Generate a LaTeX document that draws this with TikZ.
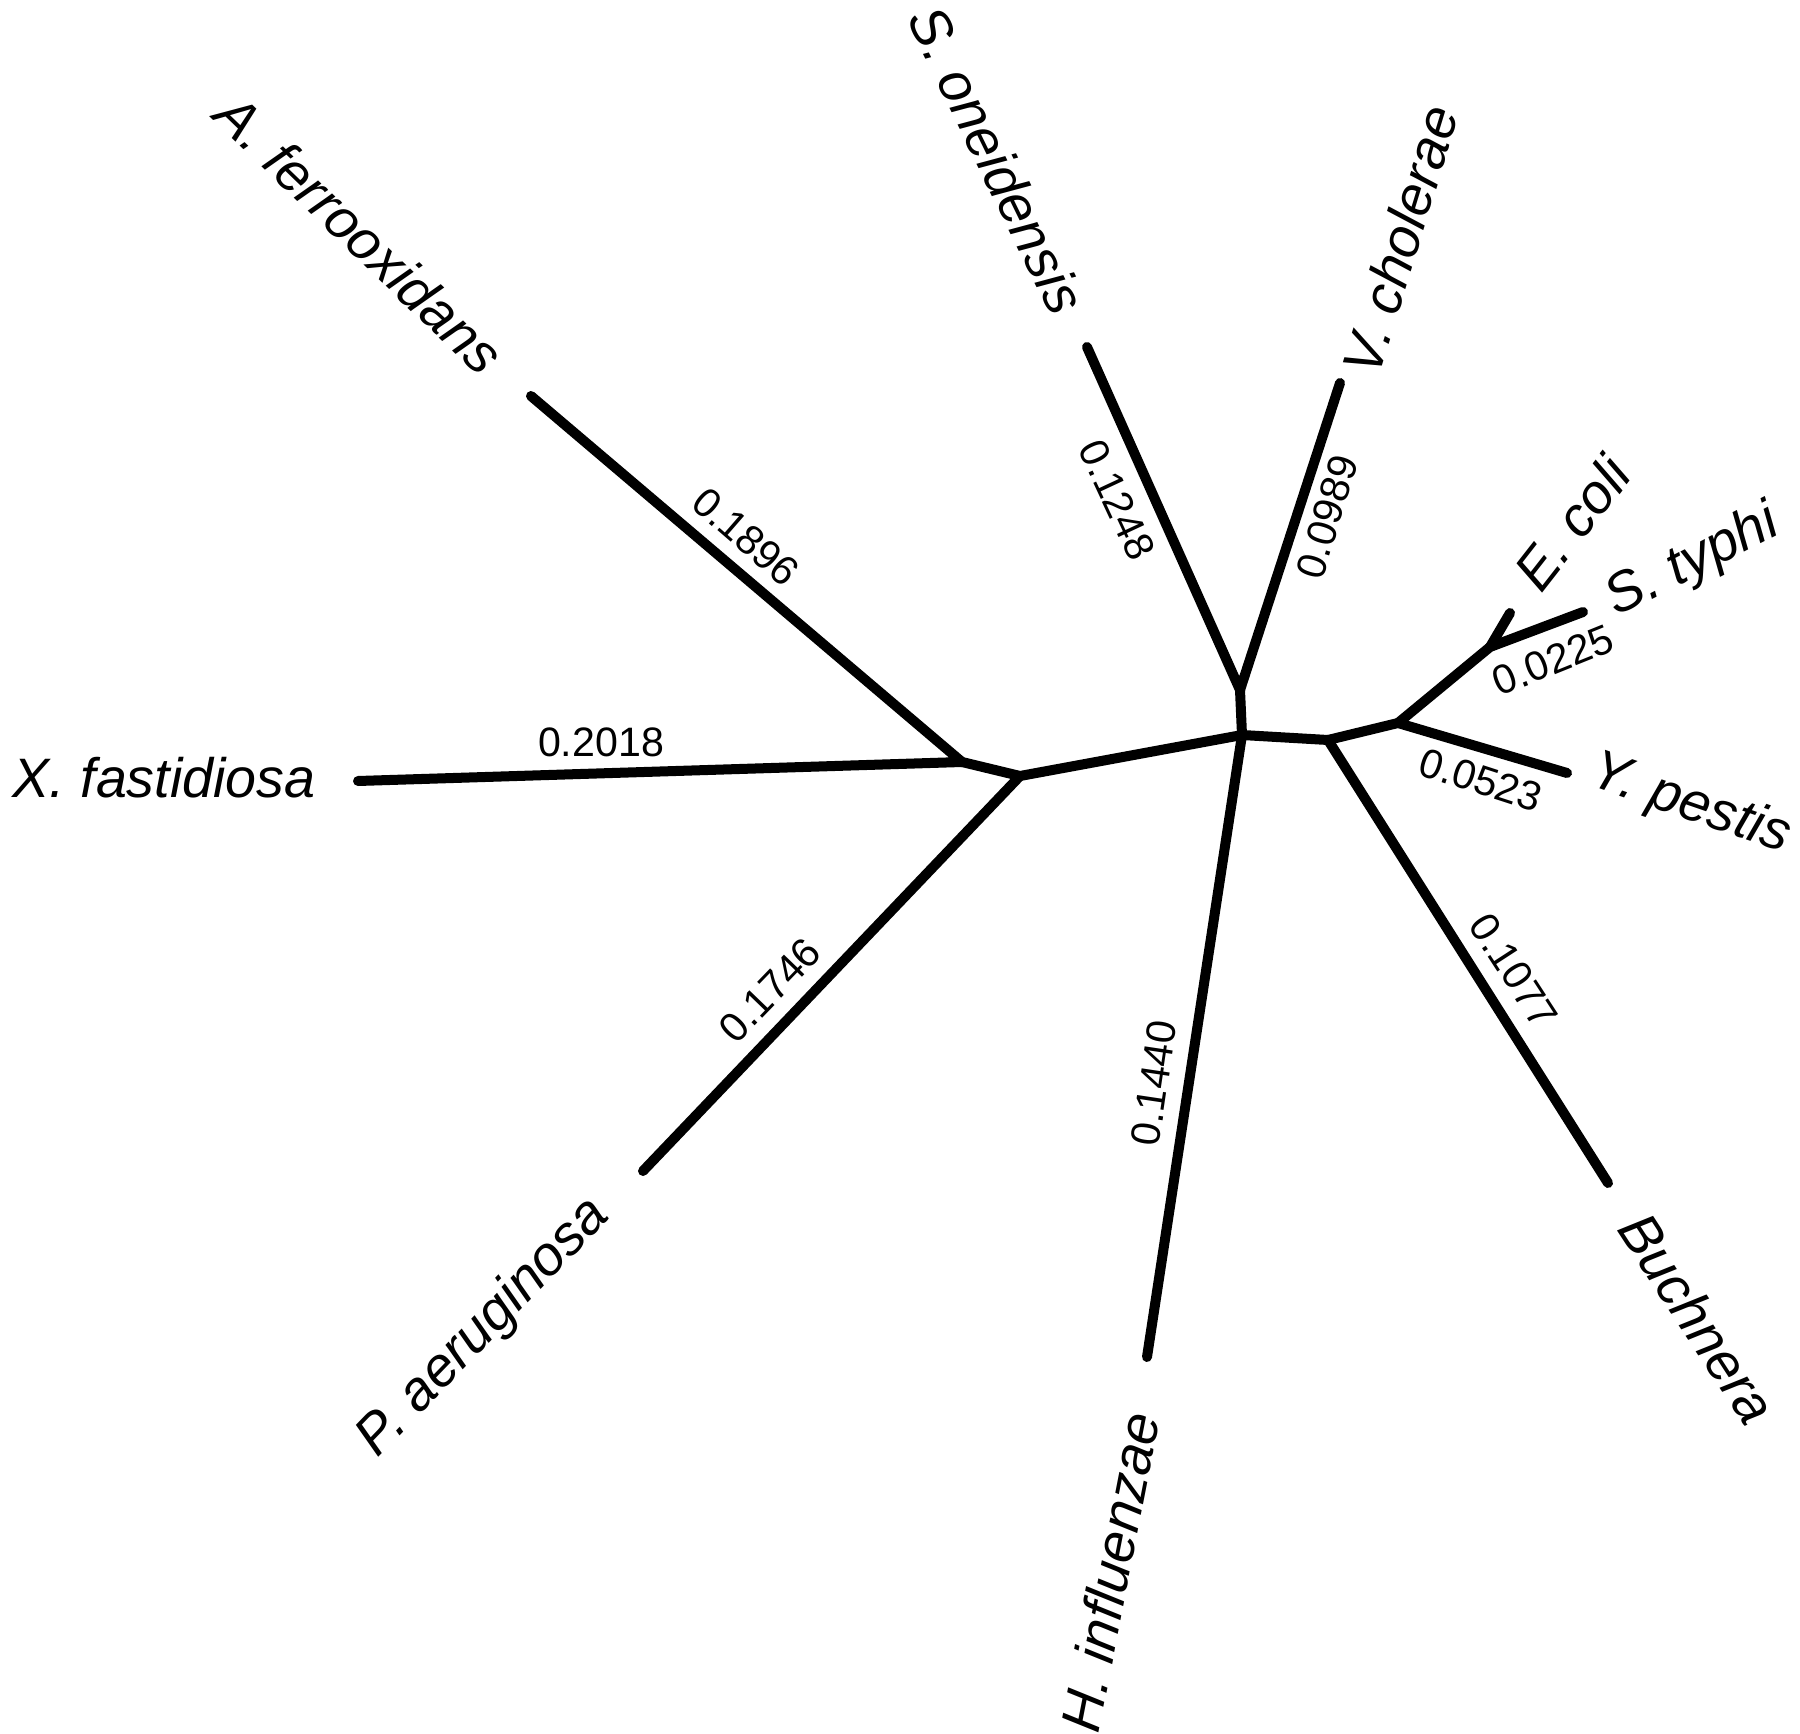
\documentclass[tikz,border=0pt]{standalone}
\usepackage{fontspec}
\setmainfont{Liberation Sans}
\begin{document}
\begin{tikzpicture}[x=0.01cm,y=-0.01cm,
  branch/.style={line width=0.1cm, line cap=round, line join=round},
  species/.style={font=\fontsize{15.8pt}{19pt}\selectfont\itshape, inner sep=0pt},
  blen/.style={font=\fontsize{11.7pt}{14pt}\selectfont, inner sep=0pt}]
\useasboundingbox[fill=white] (0,0) rectangle (1800,1734);

% internal nodes
\coordinate (L1) at (962,762);
\coordinate (L2) at (1020,776);
\coordinate (C) at (1242,735);
\coordinate (SV) at (1240,690);
\coordinate (R1) at (1328,740);
\coordinate (R2) at (1398,723);
\coordinate (R3) at (1490,647);
% tips
\coordinate (tAf) at (531,396);
\coordinate (tXf) at (358,781);
\coordinate (tPa) at (643,1171);
\coordinate (tSo) at (1087,347);
\coordinate (tVc) at (1340,383);
\coordinate (tHi) at (1147,1357);
\coordinate (tBu) at (1608,1183);
\coordinate (tYp) at (1567,773);
\coordinate (tEc) at (1510,613);
\coordinate (tSt) at (1583,612);

% branches
\draw[branch] (tAf) -- (L1) -- (tXf);
\draw[branch] (L1) -- (L2) -- (C);
\draw[branch] (L2) -- (tPa);
\draw[branch] (tSo) -- (SV) -- (tVc);
\draw[branch] (SV) -- (C) -- (tHi);
\draw[branch] (C) -- (R1) -- (tBu);
\draw[branch] (R1) -- (R2) -- (tYp);
\draw[branch] (R2) -- (R3) -- (tSt);
\draw[branch] (R3) -- (tEc);

% species labels
\node[species, rotate=-44] (Af) at (360,234) {A. ferrooxidans};
\node[species] (Xf) at (164,778) {X. fastidiosa};
\node[species, rotate=46] (Pa) at (484,1328) {P. aeruginosa};
\node[species, rotate=-64] (So) at (997,160) {S. oneidensis};
\node[species, rotate=73] (Vc) at (1400,240) {V. cholerae};
\node[species, rotate=79] (Hi) at (1110,1572) {H. influenzae};
\node[species, rotate=-57] (Bu) at (1698,1318) {Buchnera};
\node[species, rotate=-19] (Yp) at (1690,805) {Y. pestis};
\node[species, rotate=52] (Ec) at (1572,523) {E. coli};
\node[species, rotate=27] (St) at (1693,562) {S. typhi};

% branch lengths
\node[blen, rotate=-41] (b1) at (746,537) {0.1896};
\node[blen] (b2) at (601,742) {0.2018};
\node[blen, rotate=46] (b3) at (770,990) {0.1746};
\node[blen, rotate=-65] (b4) at (1117,500) {0.1248};
\node[blen, rotate=73] (b5) at (1327,517) {0.0989};
\node[blen, rotate=81.5] (b6) at (1154,1083) {0.1440};
\node[blen, rotate=-57] (b7) at (1514,971) {0.1077};
\node[blen, rotate=22] (b8) at (1553,660) {0.0225};
\node[blen, rotate=-18] (b9) at (1481,780) {0.0523};
\end{tikzpicture}
\end{document}
